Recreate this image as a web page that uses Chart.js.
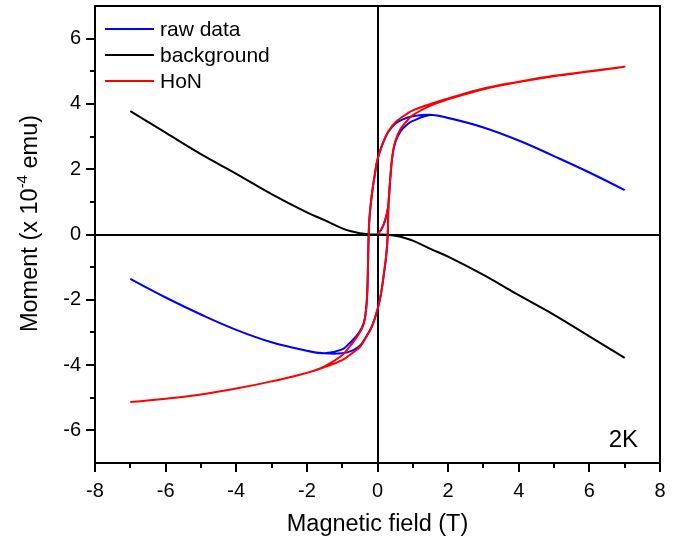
<!DOCTYPE html>
<html><head><meta charset="utf-8">
<script src="https://cdn.jsdelivr.net/npm/chart.js@4.4.1/dist/chart.umd.min.js"></script>
<style>html,body{margin:0;padding:0;background:#fff}canvas{display:block}</style>
</head><body>
<canvas id="c" width="681" height="541"></canvas>
<script>
// ---- data ----
const seriesNames = ['raw data', 'background', 'HoN'];
const seriesColors = ['#0000ff', '#000000', '#ff0000'];

// field sequence of the measured loop: virgin 0 -> 7 T, down 7 -> -7 T, up -7 -> 7 T
const loopField = [
  0, 0.12, 0.22, 0.3, 0.36, 0.42, 0.5, 0.65, 0.85, 1, 1.5, 2, 3, 4, 5, 6, 7,
  6, 5, 4, 3, 2, 1.5, 1, 0.7, 0.5, 0.3, 0.15, 0, -0.08, -0.15, -0.22, -0.25, -0.27, -0.3, -0.36, -0.45, -0.62, -0.8, -1, -1.5, -2, -3, -4, -5, -6, -7,
  -6, -5, -4, -3, -2, -1.5, -1, -0.7, -0.5, -0.34, -0.15, 0, 0.1, 0.18, 0.25, 0.29, 0.31, 0.36, 0.42, 0.5, 0.65, 0.85, 1, 1.5, 2, 3, 4, 5, 6, 7
];
const honMoment = [
  0, 0.18, 0.45, 0.85, 1.7, 2.4, 2.85, 3.23, 3.5, 3.66, 3.95, 4.14, 4.45, 4.67, 4.85, 4.99, 5.14,
  5.0, 4.86, 4.68, 4.47, 4.17, 4.0, 3.8, 3.6, 3.43, 3.15, 2.8, 2.3, 1.8, 1.3, 0.6, 0, -1.0, -2.0, -2.6, -2.9, -3.2, -3.45, -3.7, -4.04, -4.24, -4.5, -4.72, -4.9, -5.03, -5.13,
  -5.03, -4.9, -4.72, -4.5, -4.24, -4.06, -3.85, -3.62, -3.45, -3.18, -2.8, -2.3, -1.8, -1.2, -0.6, 0, 0.9, 1.7, 2.4, 2.85, 3.23, 3.5, 3.66, 3.95, 4.14, 4.45, 4.67, 4.85, 4.99, 5.14
];
const rawMoment = [
  0, 0.18, 0.45, 0.84, 1.68, 2.38, 2.81, 3.16, 3.38, 3.48, 3.66, 3.57, 3.28, 2.88, 2.4, 1.9, 1.36,
  1.9, 2.4, 2.88, 3.28, 3.57, 3.67, 3.62, 3.52, 3.39, 3.13, 2.79, 2.3, 1.81, 1.31, 0.62, 0, -0.98, -1.98, -2.58, -2.87, -3.14, -3.34, -3.52, -3.64, -3.56, -3.3, -2.92, -2.45, -1.93, -1.36,
  -1.93, -2.45, -2.92, -3.3, -3.56, -3.64, -3.64, -3.55, -3.41, -3.16, -2.79, -2.3, -1.81, -1.22, -0.62, 0, 0.88, 1.68, 2.38, 2.81, 3.16, 3.38, 3.48, 3.66, 3.57, 3.28, 2.88, 2.4, 1.9, 1.36
];
const bgField  = [-7, -6, -5, -4, -3, -2, -1.5, -1, -0.75, -0.5, -0.25, 0, 0.25, 0.5, 0.75, 1, 1.5, 2, 3, 4, 5, 6, 7];
const bgMoment = [3.78, 3.12, 2.46, 1.86, 1.24, 0.68, 0.44, 0.19, 0.1, 0.04, 0.01, 0, -0.01, -0.04, -0.1, -0.19, -0.44, -0.68, -1.24, -1.86, -2.46, -3.12, -3.78];

const xTickValues = [-8, -6, -4, -2, 0, 2, 4, 6, 8];
const yTickValues = [-6, -4, -2, 0, 2, 4, 6];
const xMinorValues = [-7, -5, -3, -1, 1, 3, 5, 7];
const yMinorValues = [-5, -3, -1, 1, 3, 5];
const xTitle = 'Magnetic field (T)';
const yTitleParts = ['Moment (x 10', '-4', ' emu)'];
const tempLabel = '2K';

// ---- chart ----
const FONT = '"Liberation Sans", Arial, sans-serif';
const toPts = (xs, ys) => xs.map((x, i) => ({ x: x, y: ys[i] }));

const extras = {
  id: 'extras',
  afterDatasetsDraw(chart) {
    const { ctx, chartArea: a, scales: { x, y } } = chart;
    ctx.save();
    ctx.strokeStyle = '#000';
    ctx.lineWidth = 2;
    // frame top and right
    ctx.beginPath();
    ctx.moveTo(a.left, a.top); ctx.lineTo(a.right, a.top); ctx.lineTo(a.right, a.bottom);
    ctx.stroke();
    // minor ticks
    ctx.beginPath();
    xMinorValues.forEach(v => { const p = Math.round(x.getPixelForValue(v)); ctx.moveTo(p, a.bottom); ctx.lineTo(p, a.bottom + 5); });
    yMinorValues.forEach(v => { const p = Math.round(y.getPixelForValue(v)); ctx.moveTo(a.left, p); ctx.lineTo(a.left - 5, p); });
    ctx.stroke();
    // legend
    ctx.font = '21px ' + FONT;
    ctx.textBaseline = 'middle';
    ctx.textAlign = 'left';
    chart.data.datasets.forEach((ds, i) => {
      const ly = a.top + 23 + i * 26;
      ctx.strokeStyle = ds.borderColor; ctx.lineWidth = 2;
      ctx.beginPath(); ctx.moveTo(a.left + 10, ly); ctx.lineTo(a.left + 59, ly); ctx.stroke();
      ctx.fillStyle = '#000';
      ctx.fillText(ds.label, a.left + 65, ly + 1);
    });
    // temperature annotation
    ctx.font = '24px ' + FONT;
    ctx.textAlign = 'right';
    ctx.textBaseline = 'alphabetic';
    ctx.fillText(tempLabel, a.right - 22, a.bottom - 16);
    // y title with superscript
    ctx.textAlign = 'left';
    ctx.translate(37, (a.top + a.bottom) / 2 - 11);
    ctx.rotate(-Math.PI / 2);
    ctx.font = '23.5px ' + FONT;
    const w0 = ctx.measureText(yTitleParts[0]).width;
    const w2 = ctx.measureText(yTitleParts[2]).width;
    ctx.font = '15px ' + FONT;
    const w1 = ctx.measureText(yTitleParts[1]).width;
    let sx = -(w0 + w1 + w2) / 2;
    ctx.font = '23.5px ' + FONT;
    ctx.fillText(yTitleParts[0], sx, 0);
    ctx.font = '15px ' + FONT;
    ctx.fillText(yTitleParts[1], sx + w0, -10);
    ctx.font = '23.5px ' + FONT;
    ctx.fillText(yTitleParts[2], sx + w0 + w1, 0);
    ctx.restore();
  }
};

const zeroLine = (c) => (c.tick && c.tick.value === 0) ? '#000' : 'rgba(0,0,0,0)';

new Chart(document.getElementById('c'), {
  type: 'scatter',
  data: {
    datasets: [
      { label: seriesNames[0], data: toPts(loopField, rawMoment), borderColor: seriesColors[0], order: 2, tension: 0.4 },
      { label: seriesNames[1], data: toPts(bgField, bgMoment), borderColor: seriesColors[1], order: 1, tension: 0.4 },
      { label: seriesNames[2], data: toPts(loopField, honMoment), borderColor: seriesColors[2], order: 0, tension: 0.4 }
    ].map(d => Object.assign(d, { showLine: true, pointRadius: 0, borderWidth: 2, fill: false, backgroundColor: d.borderColor }))
  },
  options: {
    responsive: false,
    animation: false,
    devicePixelRatio: 1,
    layout: { padding: { top: 6, right: 21, left: 0, bottom: 0 } },
    plugins: { legend: { display: false }, tooltip: { enabled: false } },
    scales: {
      x: {
        type: 'linear', min: -8, max: 8,
        afterBuildTicks: s => { s.ticks = xTickValues.map(v => ({ value: v })); },
        afterFit: s => { s.height = 78; },
        ticks: { color: '#000', font: { family: FONT, size: 20 }, padding: 7, maxRotation: 0, callback: v => String(v) },
        grid: { drawOnChartArea: true, color: zeroLine, lineWidth: 2, tickColor: '#000', tickLength: 9, tickWidth: 2 },
        border: { display: true, color: '#000', width: 2 },
        title: { display: true, text: xTitle, color: '#000', font: { family: FONT, size: 23.5 }, padding: { top: 0, bottom: 2 } }
      },
      y: {
        type: 'linear', min: -7, max: 7,
        afterBuildTicks: s => { s.ticks = yTickValues.map(v => ({ value: v })); },
        afterFit: s => { s.width = 95; s.paddingTop = 0; s.paddingBottom = 0; },
        ticks: { color: '#000', font: { family: FONT, size: 20 }, padding: 5, callback: v => String(v) },
        grid: { drawOnChartArea: true, color: zeroLine, lineWidth: 2, tickColor: '#000', tickLength: 9, tickWidth: 2 },
        border: { display: true, color: '#000', width: 2 }
      }
    }
  },
  plugins: [extras]
});
</script>
</body></html>
